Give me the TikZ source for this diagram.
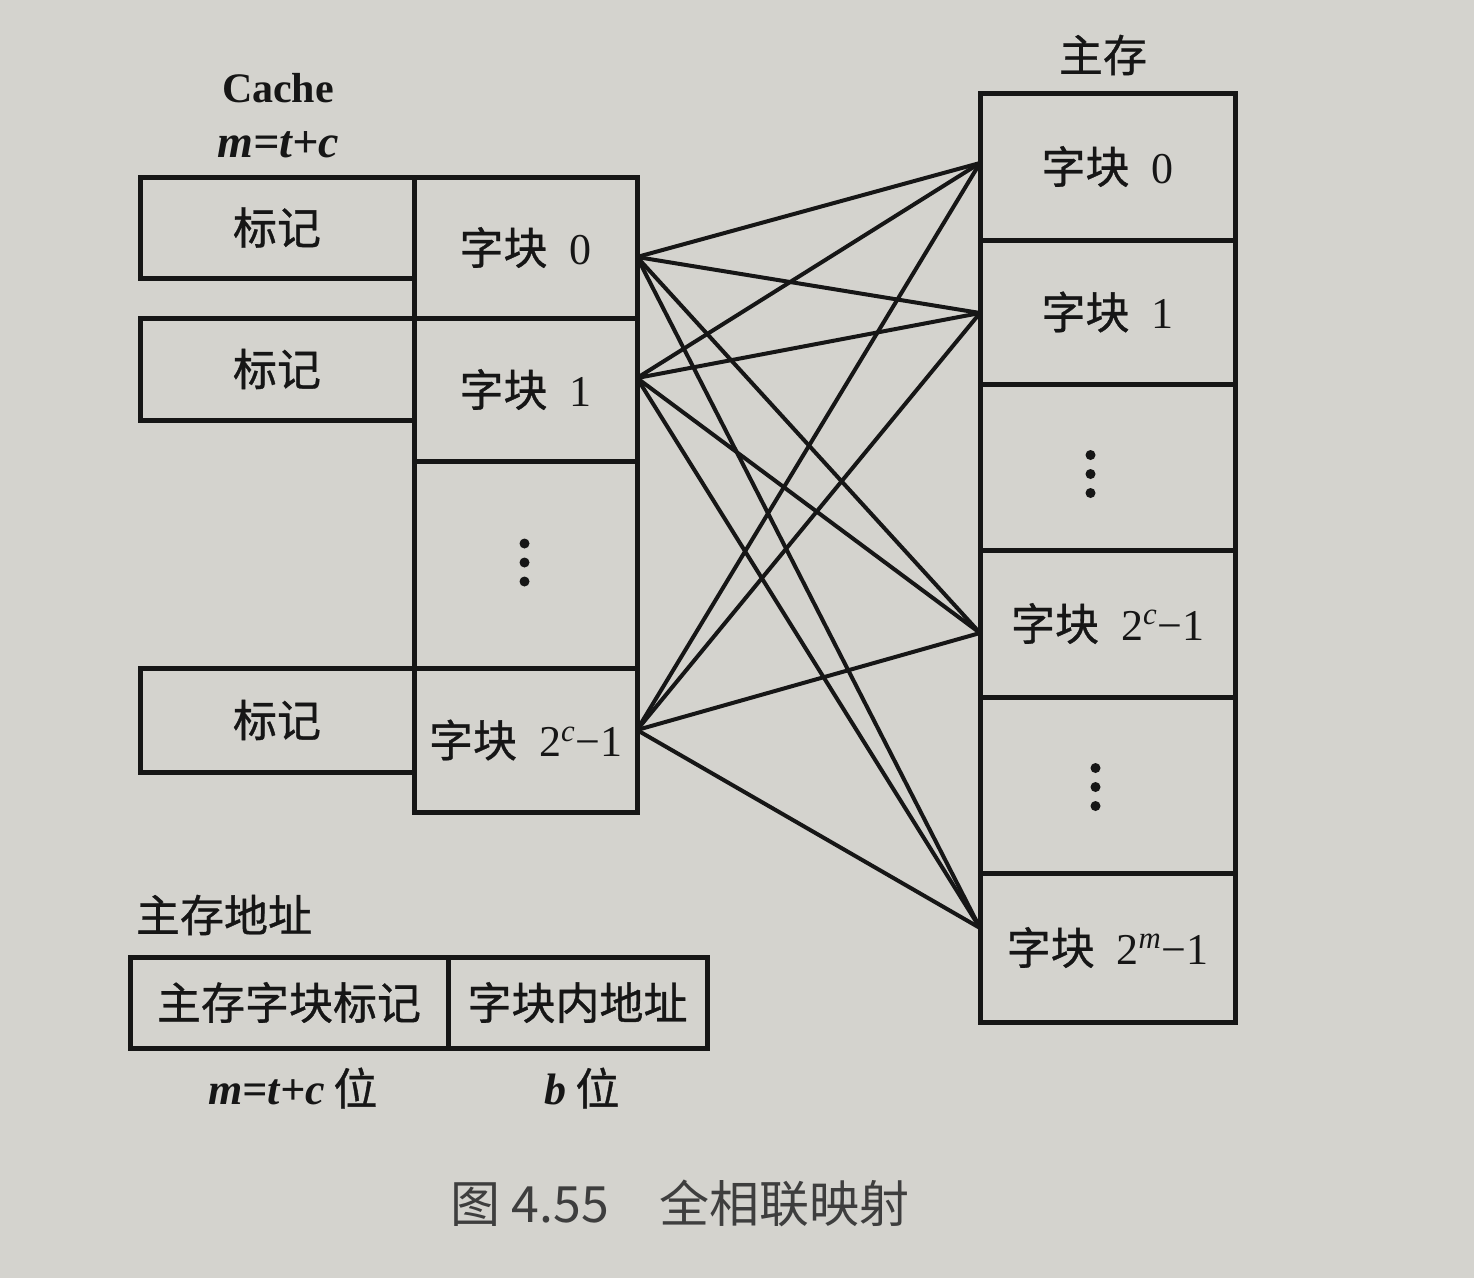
\documentclass[tikz,border=0pt]{standalone}
\usepackage{fontspec}
\setmainfont{Liberation Serif}
\newfontfamily\cjk[FakeBold=0.8]{Noto Sans CJK SC}
\newfontfamily\capfont{Noto Sans CJK SC}
\definecolor{paper}{RGB}{212,211,206}
\definecolor{ink}{RGB}{22,22,22}
\definecolor{capink}{RGB}{62,62,62}
\newcommand{\fsz}{\fontsize{44}{50}\selectfont}
\newcommand{\blk}[1]{{\cjk 字块}\hspace{0.5em}#1}
\tikzset{
  cellbox/.style n args={2}{draw=ink, line width=5pt, minimum width=#1, minimum height=#2,
    inner sep=0pt, outer sep=0pt, font=\fsz, text=ink},
  lbl/.style={inner sep=0pt, outer sep=0pt, text=ink},
  link/.style={draw=ink, line width=4pt, line cap=round},
  dotmark/.style={fill=ink}
}
\begin{document}
\begin{tikzpicture}[x=1pt,y=-1pt]
\fill[paper] (0,0) rectangle (1474,1278);
\useasboundingbox (0,0) rectangle (1474,1278);

% titles
\node[lbl, font=\fontsize{42}{48}\selectfont\bfseries] (cachelbl) at (278,88) {Cache};
\node[lbl, font=\fontsize{46}{52}\selectfont\bfseries\itshape] (mtc) at (278,145) {m=t+c};
\node[lbl, font=\fsz\cjk] (mainlbl) at (1103,55) {主存};

% cache tags
\node[cellbox={274}{101}] (t0) at (277,227.5) {{\cjk 标记}};
\node[cellbox={274}{102}] (t1) at (277,369) {{\cjk 标记}};
\node[cellbox={274}{104}] (t2) at (277,720) {{\cjk 标记}};

% cache data column
\node[cellbox={223}{141}] (c0) at (525.5,247.5) {\blk{0}};
\node[cellbox={223}{143}] (c1) at (525.5,389.5) {\blk{1}};
\node[cellbox={223}{207}] (cd) at (525.5,564.5) {};
\node[cellbox={223}{144}] (c2) at (525.5,740) {\blk{2\raisebox{0.15em}{\textsuperscript{\textit{c}}}−1}};

% main memory column
\node[cellbox={255}{147}] (m0) at (1107.5,166.5) {\blk{0}};
\node[cellbox={255}{144}] (m1) at (1107.5,312) {\blk{1}};
\node[cellbox={255}{166}] (md1) at (1107.5,467) {};
\node[cellbox={255}{147}] (m2) at (1107.5,623.5) {\blk{2\raisebox{0.15em}{\textsuperscript{\textit{c}}}−1}};
\node[cellbox={255}{176}] (md2) at (1107.5,785) {};
\node[cellbox={255}{149}] (m3) at (1107.5,947.5) {\blk{2\raisebox{0.15em}{\textsuperscript{\textit{m}}}−1}};

% vertical dots
\foreach \n/\dx/\dy in {cd/-1/-2, md1/-17/7, md2/-12/2}{
  \foreach \k in {-19,0,19}{
    \fill[dotmark] ([xshift=\dx pt, yshift=-\dy pt-\k pt]\n.center) circle (5pt);
  }
}

% connector end points
\coordinate (a0) at ([yshift=-9.5pt]c0.east);
\coordinate (a1) at ([yshift=11.5pt]c1.east);
\coordinate (a2) at ([yshift=10pt]c2.east);
\coordinate (b0) at ([yshift=3.5pt]m0.west);
\coordinate (b1) at ([yshift=-1pt]m1.west);
\coordinate (b2) at ([yshift=-9.5pt]m2.west);
\coordinate (b3) at ([yshift=19.5pt]m3.west);

\foreach \a in {a0,a1,a2}{
  \foreach \b in {b0,b1,b2,b3}{
    \draw[link] (\a) -- (\b);
  }
}

% main memory address
\node[lbl, font=\fsz\cjk, anchor=west] (addrlbl) at (136,915) {主存地址};
\node[cellbox={318}{91}] (f1) at (289,1002.5) {{\cjk 主存字块标记}};
\node[cellbox={259}{91}] (f2) at (577.5,1002.5) {{\cjk 字块内地址}};
\node[lbl, font=\fsz] (w1) at (293,1088) {\textbf{\textit{m=t+c}}\hspace{0.2em}{\cjk 位}};
\node[lbl, font=\fsz] (w2) at (582,1088) {\textbf{\textit{b}}\hspace{0.2em}{\cjk 位}};

% caption
\node[lbl, font=\fontsize{50}{56}\selectfont\capfont, text=capink] (cap) at (680,1203) {图 4.55　全相联映射};
\end{tikzpicture}
\end{document}
